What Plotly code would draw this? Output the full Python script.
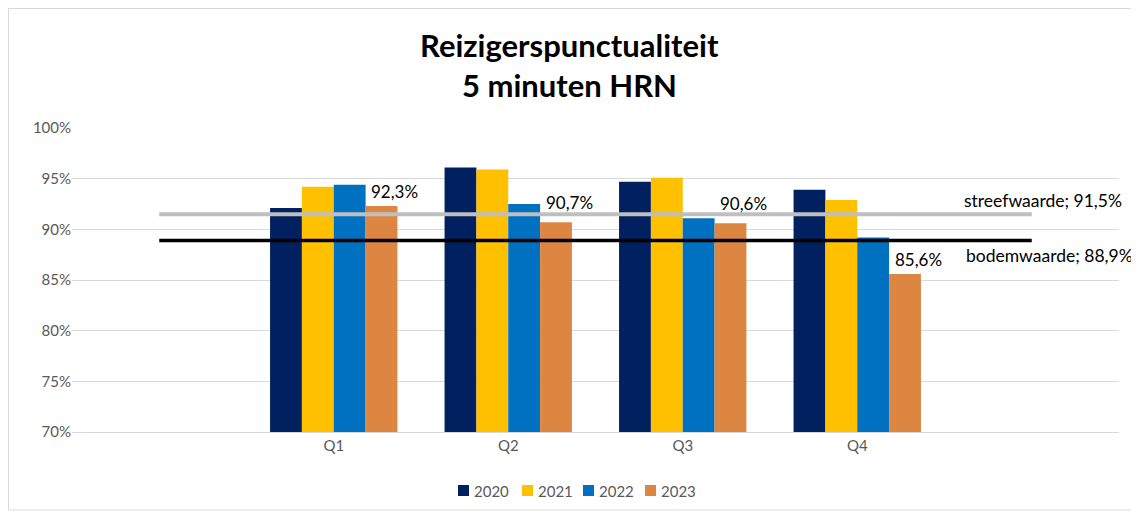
import plotly.graph_objects as go

quarters = ["Q1", "Q2", "Q3", "Q4"]
years = ["2020", "2021", "2022", "2023"]
v2020 = [92.1, 96.1, 94.7, 93.9]
v2021 = [94.2, 95.9, 95.1, 92.9]
v2022 = [94.4, 92.5, 91.1, 89.2]
v2023 = [92.3, 90.7, 90.6, 85.6]
streefwaarde = 91.5
bodemwaarde = 88.9
colors = ["#002060", "#FFC000", "#0070C0", "#DC8642"]
title_lines = ["Reizigerspunctualiteit", "5 minuten HRN"]

FONT = "Lato"
n_slots = len(quarters) + 2
xq = list(range(1, len(quarters) + 1))
xall = list(range(n_slots))

# page offset of 8px (body margin) compensated: figure pixel = reference pixel - 8
OFF = 8
W, H = 1139 - OFF, 514 - OFF
L, R, T, B = 72 - OFF, 20, 128 - OFF, 82
pw, ph = W - L - R, H - T - B
plot_bottom = H - B

def px_x(p):  # reference page pixel -> paper x
    return (p - OFF - L) / pw

def px_y(p):  # reference page pixel -> paper y
    return (plot_bottom - (p - OFF)) / ph

fig = go.Figure()
for name, vals, c in zip(years, [v2020, v2021, v2022, v2023], colors):
    fig.add_trace(go.Bar(x=xq, y=vals, name=name, marker=dict(color=c, line=dict(width=0)),
                         hoverinfo="y", showlegend=False))

fig.add_trace(go.Scatter(x=xall, y=[streefwaarde] * n_slots, mode="lines",
                         line=dict(color="#BFBFBF", width=4), showlegend=False))
fig.add_trace(go.Scatter(x=xall, y=[bodemwaarde] * n_slots, mode="lines",
                         line=dict(color="#000000", width=3.5), showlegend=False))

def fmt(v):
    return f"{v:.1f}".replace(".", ",") + "%"

shifts = [15, 20, 20, 14]
for xi, v, s in zip(xq, v2023, shifts):
    fig.add_annotation(x=xi + 0.35, y=v, text=fmt(v), showarrow=False, xref="x", yref="y",
                       yshift=s, xanchor="center", yanchor="middle",
                       font=dict(family=FONT, size=17, color="#000000"))

fig.add_annotation(x=xall[-1], y=streefwaarde, text="streefwaarde; " + fmt(streefwaarde),
                   showarrow=False, xanchor="left", yanchor="middle", xshift=-70, yshift=14,
                   font=dict(family=FONT, size=17.5, color="#000000"))
fig.add_annotation(x=xall[-1], y=bodemwaarde, text="bodemwaarde; " + fmt(bodemwaarde),
                   showarrow=False, xanchor="left", yanchor="middle", xshift=-68, yshift=-15,
                   font=dict(family=FONT, size=17.5, color="#000000"))

# title (two lines), centred on the page
for txt, py in zip(title_lines, [45, 85]):
    fig.add_annotation(x=px_x(569), xref="paper", xanchor="center", y=px_y(py), yref="paper",
                       yanchor="middle", text=f"<b>{txt}</b>", showarrow=False,
                       font=dict(family=FONT, size=31, color="#000000"))

# legend (drawn manually to match spacing)
leg_x = [458, 522, 583, 645]
for name, c, lx in zip(years, colors, leg_x):
    fig.add_shape(type="rect", xref="paper", yref="paper",
                  x0=px_x(lx), x1=px_x(lx + 11), y0=px_y(496), y1=px_y(485),
                  fillcolor=c, line=dict(width=0))
    fig.add_annotation(x=px_x(lx + 14), xref="paper", xanchor="left", y=px_y(491), yref="paper",
                       yanchor="middle", text=name, showarrow=False,
                       font=dict(family=FONT, size=15, color="#595959"))

# chart border
fig.add_shape(type="rect", xref="paper", yref="paper",
              x0=(0.5 - L) / pw, x1=(1129 - L) / pw,
              y0=(plot_bottom - 502) / ph, y1=(plot_bottom - 0.5) / ph,
              line=dict(color="#D9D9D9", width=1), fillcolor="rgba(0,0,0,0)", layer="below")

fig.update_layout(
    width=W, height=H,
    margin=dict(l=L, r=R, t=T, b=B),
    paper_bgcolor="white", plot_bgcolor="white",
    barmode="group", bargap=0.27, bargroupgap=0,
    xaxis=dict(range=[-0.5, n_slots - 0.5], tickvals=xq, ticktext=quarters,
               showgrid=False, zeroline=False, showline=True, linecolor="#D9D9D9", linewidth=1,
               ticks="", tickfont=dict(family=FONT, size=15, color="#595959")),
    yaxis=dict(range=[70, 100], dtick=5, ticksuffix="%", showgrid=True, gridcolor="#D9D9D9",
               gridwidth=1, zeroline=False, showline=False, ticks="",
               tickfont=dict(family=FONT, size=15, color="#595959")),
    showlegend=False,
)

fig.write_html("out.html")
